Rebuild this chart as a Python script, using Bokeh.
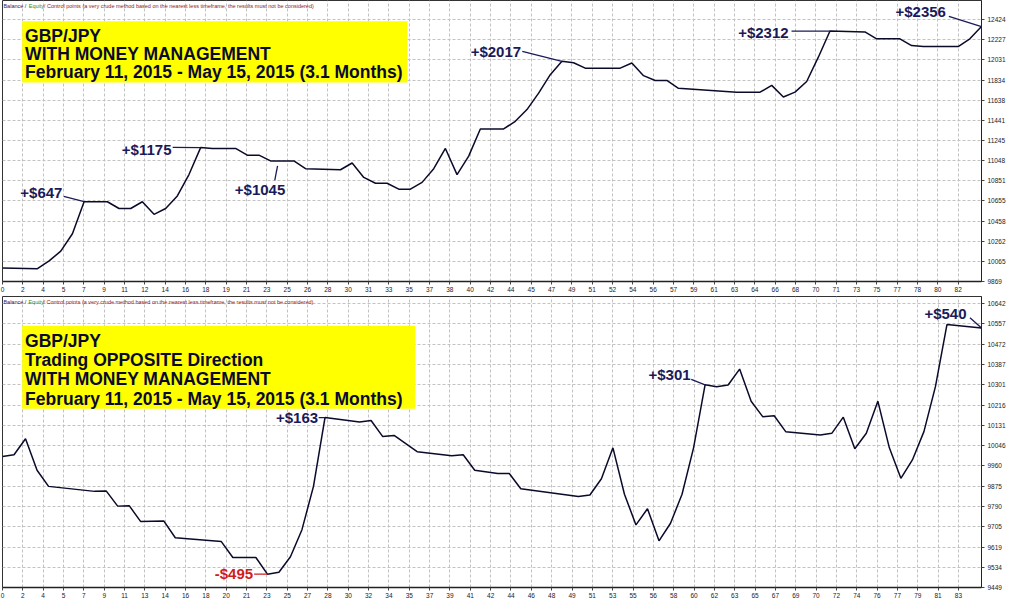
from bokeh.plotting import figure
from bokeh.layouts import column
from bokeh.models import (Range1d, FixedTicker, CustomJSTickFormatter,
                          PrintfTickFormatter, Label, BoxAnnotation)
from bokeh.embed import file_html
from bokeh.resources import INLINE

# ---------------- data: top panel (with money management) ----------------
top_trades = [0, 3, 4, 5, 6, 7, 9, 10, 11, 12, 13, 14, 15, 16, 17, 18, 20, 21, 22, 23,
              25, 26, 29, 30, 31, 32, 33, 34, 35, 36, 37, 38, 39, 40, 41, 43, 44, 45, 46, 47,
              48, 49, 50, 53, 54, 55, 56, 57, 58, 63, 65, 66, 67, 68, 69, 70, 71, 74, 75, 77,
              78, 79, 82, 83, 84]
top_balance = [10000, 9994, 10070, 10165, 10335, 10647, 10647, 10581, 10581, 10647, 10524, 10581,
               10704, 10912, 11175, 11167, 11167, 11101, 11101, 11045, 11045, 10969, 10959, 11025,
               10884, 10827, 10827, 10770, 10770, 10836, 10969, 11167, 10912, 11092, 11357, 11357,
               11432, 11546, 11706, 11886, 12017, 12003, 11950, 11950, 12000, 11877, 11830, 11830,
               11754, 11716, 11716, 11782, 11669, 11716, 11820, 12057, 12312, 12303, 12236, 12236,
               12170, 12161, 12161, 12236, 12356]
top_y_ticks = [9869, 10065, 10262, 10458, 10655, 10851, 11048, 11245, 11441, 11638, 11834,
               12031, 12227, 12424]
top_x_labels = [0, 2, 4, 5, 7, 9, 11, 12, 14, 16, 18, 19, 21, 23, 25, 26, 28, 30, 31, 33, 35,
                37, 38, 40, 42, 44, 45, 47, 49, 51, 52, 54, 56, 57, 59, 61, 63, 64, 66, 68, 70,
                71, 73, 75, 77, 78, 80, 82]
top_titles = ["GBP/JPY", "WITH MONEY MANAGEMENT",
              "February 11, 2015 - May 15, 2015 (3.1 Months)"]

# ---------------- data: bottom panel (opposite direction) ----------------
bot_trades = [0, 1, 2, 3, 4, 8, 9, 10, 11, 12, 14, 15, 19, 20, 22, 23, 24, 25, 26, 27, 28,
              31, 32, 33, 34, 36, 39, 40, 41, 43, 44, 45, 50, 51, 52, 53, 54, 55, 56, 57, 58,
              59, 60, 61, 62, 63, 64, 65, 66, 67, 68, 71, 72, 73, 74, 75, 76, 77, 78, 79, 80,
              81, 82, 85]
bot_balance = [10000, 10007, 10074, 9942, 9874, 9853, 9855, 9791, 9793, 9726, 9729, 9658, 9642,
               9575, 9575, 9505, 9513, 9578, 9692, 9874, 10163, 10145, 10151, 10084, 10088,
               10020, 10003, 10007, 9942, 9928, 9928, 9864, 9831, 9838, 9906, 10036, 9841, 9712,
               9780, 9645, 9719, 9841, 10036, 10301, 10293, 10300, 10367, 10232, 10167, 10171,
               10104, 10090, 10097, 10165, 10032, 10097, 10232, 10036, 9908, 9985, 10104, 10293,
               10554, 10540]
bot_y_ticks = [9449, 9534, 9619, 9705, 9790, 9875, 9960, 10046, 10131, 10216, 10301, 10387,
               10472, 10557, 10642]
bot_x_labels = [0, 2, 4, 5, 7, 9, 11, 13, 14, 16, 18, 20, 21, 23, 25, 27, 28, 30, 32, 34, 35,
                37, 39, 41, 42, 44, 46, 48, 49, 51, 53, 55, 56, 58, 60, 62, 63, 65, 67, 69, 70,
                72, 74, 76, 77, 79, 81, 83]
bot_titles = ["GBP/JPY", "Trading OPPOSITE Direction", "WITH MONEY MANAGEMENT",
              "February 11, 2015 - May 15, 2015 (3.1 Months)"]

NAVY = "#1a1a5a"
RED = "#d01c1c"
LINE = "#0a0a2a"
FONT = "Liberation Sans"


def make_panel(trades, balance, x_end, y_lo, y_hi, y_ticks, x_labels, height, border_top):
    p = figure(width=1008, height=height,
               x_range=Range1d(0, x_end), y_range=Range1d(y_lo, y_hi),
               y_axis_location="right", toolbar_location=None, output_backend="svg",
               min_border_left=2, min_border_right=0, min_border_top=border_top,
               min_border_bottom=0, background_fill_color="white",
               border_fill_color="white")
    p.outline_line_color = "#333333"
    p.outline_line_width = 1

    step = x_labels[-1] / (len(x_labels) - 1)
    x_ticks = [k * step for k in range(len(x_labels))]
    p.xaxis.ticker = FixedTicker(ticks=x_ticks)
    p.xaxis.formatter = CustomJSTickFormatter(
        args=dict(labels=[str(v) for v in x_labels], step=step),
        code="const i = Math.round(tick / step); "
             "return (i >= 0 && i < labels.length) ? labels[i] : '';")
    p.yaxis.ticker = FixedTicker(ticks=y_ticks)
    p.yaxis.formatter = PrintfTickFormatter(format="%d")

    p.axis.major_label_text_font = FONT
    p.axis.major_label_text_font_size = "6.5px"
    p.axis.major_label_text_color = "#222222"
    p.axis.minor_tick_line_color = None
    p.axis.major_tick_in = 0
    p.axis.major_tick_out = 3
    p.axis.major_tick_line_color = "#444444"
    p.axis.axis_line_color = "#222222"
    p.xaxis.axis_line_width = 1.5
    p.xaxis.major_label_standoff = 2
    p.yaxis.major_label_standoff = 3

    p.grid.grid_line_color = "#c2c2c2"
    p.grid.grid_line_dash = "3 2"
    p.grid.grid_line_width = 1

    p.line(trades, balance, line_color=LINE, line_width=1.5)
    return p


def header(p, t, y):
    parts = [("Balance /", "#1a1a6a", 0.08), ("Equity", "#2e8b2e", 2.25),
             ("/ Control points (a very crude method based on the nearest less timeframe, "
              "the results must not be considered)", "#8b1a1a", 3.55)]
    for text, col, dx in parts:
        p.add_layout(Label(x=t + dx, y=y, text=text, text_font=FONT, text_font_size="5.5px",
                           text_color=col, text_baseline="middle"))


def title_box(p, left, right, top, bottom, text_x, baselines, lines):
    p.add_layout(BoxAnnotation(left=left, right=right, top=top, bottom=bottom,
                               fill_color="#ffff00", fill_alpha=1, line_color=None))
    for b, txt in zip(baselines, lines):
        p.add_layout(Label(x=text_x, y=b, text=txt, text_font=FONT, text_font_style="bold",
                           text_font_size="17.5px", text_color="#0a0a30",
                           text_baseline="alphabetic"))


def note(p, text, tx, ty, align, x0, y0, x1, y1, color=NAVY):
    p.segment(x0=[x0], y0=[y0], x1=[x1], y1=[y1], line_color=color, line_width=1.3)
    p.add_layout(Label(x=tx, y=ty, text=text, text_align=align, text_baseline="middle",
                       text_font=FONT, text_font_style="bold", text_font_size="15px",
                       text_color=color))


# ---------------- top panel ----------------
p1 = make_panel(top_trades, top_balance, 84, 9869, 12610, top_y_ticks, top_x_labels, 294, 0)
tv = dict(zip(top_trades, top_balance))
header(p1, 0, 12558)
title_box(p1, 1.69, 34.75, 12407, 11811, 1.94, [12265, 12085, 11910], top_titles)
note(p1, "+$647", 5.14, 10742, "right", 5.25, 10700, 7, tv[7])
note(p1, "+$1175", 14.5, 11160, "right", 14.6, 11177, 17, tv[17])
note(p1, "+$1045", 22.1, 10770, "center", 23.36, 10855, 23.6, 10997)
note(p1, "+$2017", 44.5, 12113, "right", 44.6, 12113, 48, tv[48])
note(p1, "+$2312", 67.45, 12302, "right", 67.7, 12312, 71, tv[71])
note(p1, "+$2356", 80.95, 12501, "right", 81.2, 12454, 84, tv[84])

# ---------------- bottom panel ----------------
p2 = make_panel(bot_trades, bot_balance, 85, 9449, 10672, bot_y_ticks, bot_x_labels, 306, 2)
bv = dict(zip(bot_trades, bot_balance))
header(p2, 0, 10648)
title_box(p2, 1.71, 35.84, 10549, 10200, 1.96, [10486, 10405, 10324, 10243], bot_titles)
note(p2, "+$163", 27.4, 10162, "right", 27.45, 10163, 28, bv[28])
note(p2, "-$495", 21.76, 9506, "right", 21.85, 9505, 23, bv[23], color=RED)
note(p2, "+$301", 59.74, 10344, "right", 59.8, 10324, 61, bv[61])
note(p2, "+$540", 83.7, 10599, "right", 84.0, 10583, 85, bv[85])

layout = column(p1, p2, spacing=0)
open("out.html", "w").write(file_html(layout, INLINE))
